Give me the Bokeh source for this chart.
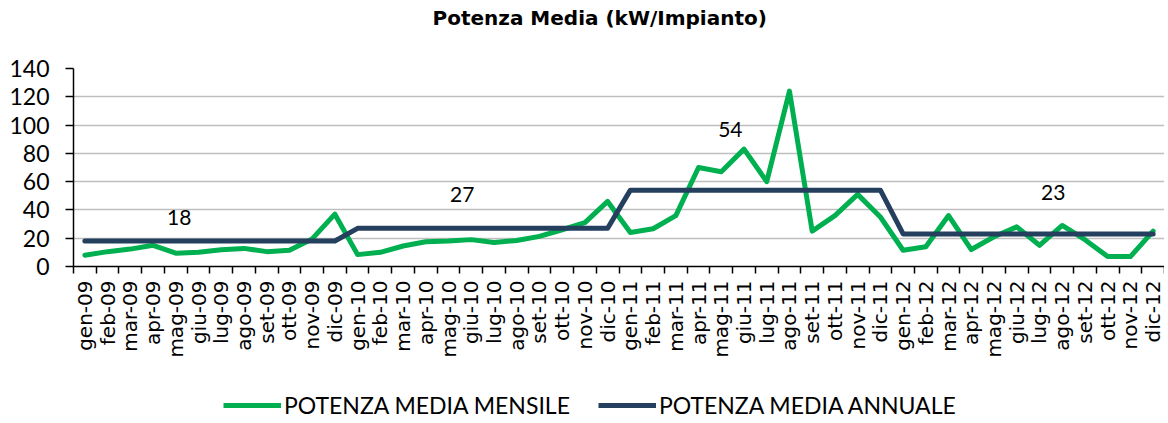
import math
from bokeh.plotting import figure
from bokeh.layouts import column
from bokeh.models import (Range1d, LinearAxis, FixedTicker, Legend, LegendItem,
                          ColumnDataSource, Grid, Title)
from bokeh.core.properties import value
from bokeh.embed import file_html
from bokeh.resources import INLINE

# ---------------- data ----------------
months = ["gen", "feb", "mar", "apr", "mag", "giu", "lug", "ago", "set", "ott", "nov", "dic"]
years = ["09", "10", "11", "12"]
categories = [f"{m}-{y}" for y in years for m in months]

mensile = [8, 10.5, 12.3, 15, 9.4, 10, 11.8, 12.8, 10.5, 11.5, 19.5, 37,
           8.4, 10, 14.5, 17.5, 18, 19, 17, 18.4, 21.3, 26, 31, 46,
           24, 26.7, 36, 70, 67, 83, 60, 124, 25, 36, 51, 35,
           11.5, 14, 36, 12, 21, 28, 15, 29, 19, 7, 7, 25]
annuale_values = [18, 27, 54, 23]
annuale = [v for v in annuale_values for _ in months]

series_names = ["POTENZA MEDIA MENSILE", "POTENZA MEDIA ANNUALE"]
chart_title = "Potenza Media (kW/Impianto)"
y_ticks = [0, 20, 40, 60, 80, 100, 120, 140]

# positions of the yearly value labels (annotation anchors)
label_x = [4.15, 16.6, 28.4, 42.6]
label_y = [34.7, 51.0, 97.2, 52.3]

GREEN = "#00B050"
NAVY = "#253F5E"
FONT = "Lato"

x_idx = list(range(len(categories)))
src = ColumnDataSource(dict(x=x_idx, mensile=mensile, annuale=annuale))

p = figure(width=1164, height=360, output_backend="svg", toolbar_location=None, title=None,
           x_range=Range1d(-0.5, len(categories) - 0.5), y_range=Range1d(0, 140),
           x_axis_type=None, y_axis_type=None,
           min_border_left=73, min_border_right=0, min_border_top=67, min_border_bottom=87)
p.outline_line_color = None
p.background_fill_color = "white"
p.border_fill_color = "white"

# title: a blank spacer next to the frame, then the real title further out
spacer = Title(text=" ", text_font="DejaVu Sans", text_font_size="20px", standoff=6)
p.add_layout(spacer, "above")
title = Title(text=chart_title, align="left", vertical_align="top", offset=359, standoff=10,
              text_font="DejaVu Sans", text_font_style="bold", text_font_size="20px",
              text_color="black")
p.add_layout(title, "above")

# y axis
yaxis = LinearAxis(ticker=FixedTicker(ticks=y_ticks))
yaxis.major_tick_out = 8
yaxis.major_tick_in = 0
yaxis.minor_tick_out = 0
yaxis.minor_tick_in = 0
yaxis.axis_line_color = "black"
yaxis.axis_line_width = 1.5
yaxis.major_tick_line_width = 1.5
yaxis.major_label_standoff = 16
yaxis.major_label_text_font = FONT
yaxis.major_label_text_font_size = "23px"
yaxis.major_label_text_color = "black"
p.add_layout(yaxis, "left")

p.add_layout(Grid(dimension=1, ticker=yaxis.ticker, grid_line_color="#BFBFBF",
                  grid_line_width=1.5))

# x axis: labels at category centres, tick marks (minor) between categories
xaxis = LinearAxis(ticker=FixedTicker(ticks=x_idx,
                                      minor_ticks=[i - 0.5 for i in range(len(categories) + 1)]),
                   major_label_overrides={i: c for i, c in enumerate(categories)})
xaxis.major_label_orientation = math.pi / 2
xaxis.axis_line_color = "black"
xaxis.axis_line_width = 1.5
xaxis.major_tick_line_color = None
xaxis.major_tick_out = 0
xaxis.major_tick_in = 0
xaxis.minor_tick_line_color = "black"
xaxis.minor_tick_line_width = 1.5
xaxis.minor_tick_out = 7
xaxis.minor_tick_in = 0
xaxis.major_label_standoff = 7
xaxis.major_label_text_font = "DejaVu Sans"
xaxis.major_label_text_font_size = "20px"
xaxis.major_label_text_color = "black"
p.add_layout(xaxis, "below")

# lines
r_m = p.line("x", "mensile", source=src, line_color=GREEN, line_width=5,
             line_join="round", line_cap="round")
r_a = p.line("x", "annuale", source=src, line_color=NAVY, line_width=5,
             line_join="round", line_cap="round")

# yearly value labels
lab_src = ColumnDataSource(dict(x=label_x, y=label_y, t=[str(v) for v in annuale_values]))
p.text("x", "y", text="t", source=lab_src, text_align="center", text_baseline="middle",
       text_font=value(FONT), text_font_size="21px", text_color="black")

# legend strip below the chart (its renderers sit outside the visible range)
lg = figure(width=1164, height=60, output_backend="svg", toolbar_location=None,
            x_axis_type=None, y_axis_type=None, x_range=Range1d(0, 1), y_range=Range1d(0, 1),
            min_border_left=0, min_border_right=0, min_border_top=0, min_border_bottom=0)
lg.outline_line_color = None
lg.grid.visible = False
l_m = lg.line([-5, -4], [-5, -4], line_color=GREEN, line_width=5)
l_a = lg.line([-5, -4], [-5, -4], line_color=NAVY, line_width=5)
legend = Legend(items=[LegendItem(label=series_names[0], renderers=[l_m]),
                       LegendItem(label=series_names[1], renderers=[l_a])],
                orientation="horizontal", location=(150, 1))
legend.border_line_color = None
legend.background_fill_alpha = 0
legend.glyph_width = 58
legend.glyph_height = 20
legend.label_text_font = FONT
legend.label_text_font_size = "23px"
legend.label_text_color = "black"
legend.label_standoff = 3
legend.spacing = 28
legend.padding = 2
legend.margin = 0
lg.add_layout(legend, "center")

layout = column(p, lg, spacing=0)
open("out.html", "w").write(file_html(layout, INLINE))
